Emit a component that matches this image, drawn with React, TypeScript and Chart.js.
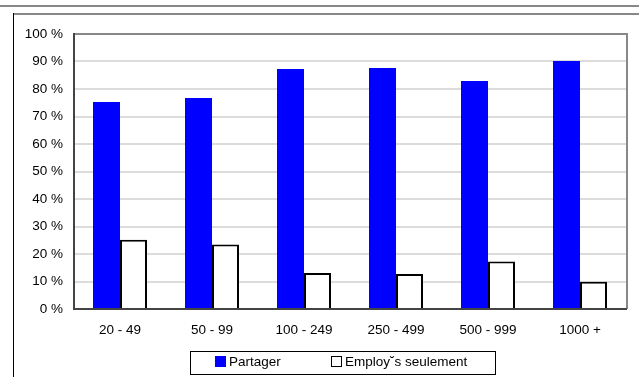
import React, { useEffect, useRef } from "react";
import { Chart, registerables } from "chart.js";

Chart.register(...registerables);

const categories = ["20 - 49", "50 - 99", "100 - 249", "250 - 499", "500 - 999", "1000 +"];
const partager = [75.3, 76.7, 87.3, 87.6, 82.9, 90.2];
const employes = [25.2, 23.5, 13.1, 12.7, 17.3, 9.9];
const seriesNames = ["Partager", "Employ˘s seulement"];

const FONT = "'Liberation Sans', Arial, sans-serif";

const framePlugin = {
  id: "frame",
  beforeDraw(chart: any) {
    const ctx = chart.ctx;
    ctx.save();
    ctx.fillStyle = "#fff";
    ctx.fillRect(0, 0, chart.width, chart.height);
    ctx.restore();
  },
  afterDraw(chart: any) {
    const ctx = chart.ctx;
    const a = chart.chartArea;
    ctx.save();
    // outer lines
    ctx.fillStyle = "#888";
    ctx.fillRect(0, 5, chart.width, 2);
    ctx.fillRect(13, 13, chart.width - 13, 2);
    ctx.fillStyle = "#000";
    ctx.fillRect(13, 13, 1, chart.height - 13);
    // plot border top & right
    ctx.fillStyle = "#888";
    ctx.fillRect(a.left, a.top - 1, a.right - a.left + 1, 2);
    ctx.fillRect(a.right, a.top - 1, 2, a.bottom - a.top + 1);
    ctx.fillStyle = "#444";
    ctx.fillRect(a.left - 1, a.top - 1, 2, a.bottom - a.top + 2);
    ctx.fillRect(a.left - 1, a.bottom - 1, a.right - a.left + 2, 2);
    // legend
    ctx.fillStyle = "#fff";
    ctx.fillRect(190, 351, 305, 23);
    ctx.strokeStyle = "#000";
    ctx.lineWidth = 1;
    ctx.strokeRect(190.5, 351.5, 305, 23);
    ctx.fillStyle = "#0000ff";
    ctx.fillRect(215, 356, 11, 11);
    ctx.fillStyle = "#fff";
    ctx.fillRect(331, 356, 10, 10);
    ctx.strokeStyle = "#000";
    ctx.strokeRect(331.5, 356.5, 10, 10);
    ctx.fillStyle = "#000";
    ctx.font = `13.5px ${FONT}`;
    ctx.textBaseline = "middle";
    ctx.textAlign = "left";
    ctx.fillText(seriesNames[0], 229, 362.5);
    ctx.fillText(seriesNames[1], 345, 362.5);
    ctx.restore();
  },
};

export default function App() {
  const ref = useRef<HTMLCanvasElement>(null);
  useEffect(() => {
    document.body.style.margin = "0";
    const chart = new Chart(ref.current!, {
      type: "bar",
      data: {
        labels: categories,
        datasets: [
          {
            label: seriesNames[0],
            data: partager,
            backgroundColor: "#0000ff",
            borderWidth: 0,
            categoryPercentage: 0.587,
            barPercentage: 1,
          },
          {
            label: seriesNames[1],
            data: employes,
            backgroundColor: "#ffffff",
            borderColor: "#000000",
            borderWidth: 2,
            categoryPercentage: 0.587,
            barPercentage: 1,
          },
        ],
      },
      options: {
        responsive: false,
        animation: false,
        layout: { padding: { left: 14, top: 34, right: 13, bottom: 0 } },
        plugins: { legend: { display: false }, tooltip: { enabled: false } },
        scales: {
          x: {
            grid: { display: false },
            border: { display: false },
            ticks: { color: "#000", font: { family: FONT, size: 13.5 }, padding: 5, maxRotation: 0 },
            afterFit: (s: any) => { s.height = 68; },
          },
          y: {
            min: 0,
            max: 100,
            grid: { color: "#dcdcdc", lineWidth: 2, drawTicks: false },
            border: { display: false },
            ticks: {
              stepSize: 10,
              color: "#000",
              font: { family: FONT, size: 13.5 },
              padding: 11,
              callback: (v: any) => `${v} %`,
            },
            afterFit: (s: any) => { s.width = 60; },
          },
        },
      },
      plugins: [framePlugin],
    });
    return () => chart.destroy();
  }, []);
  return <canvas ref={ref} width={639} height={377} style={{ display: "block" }} />;
}
